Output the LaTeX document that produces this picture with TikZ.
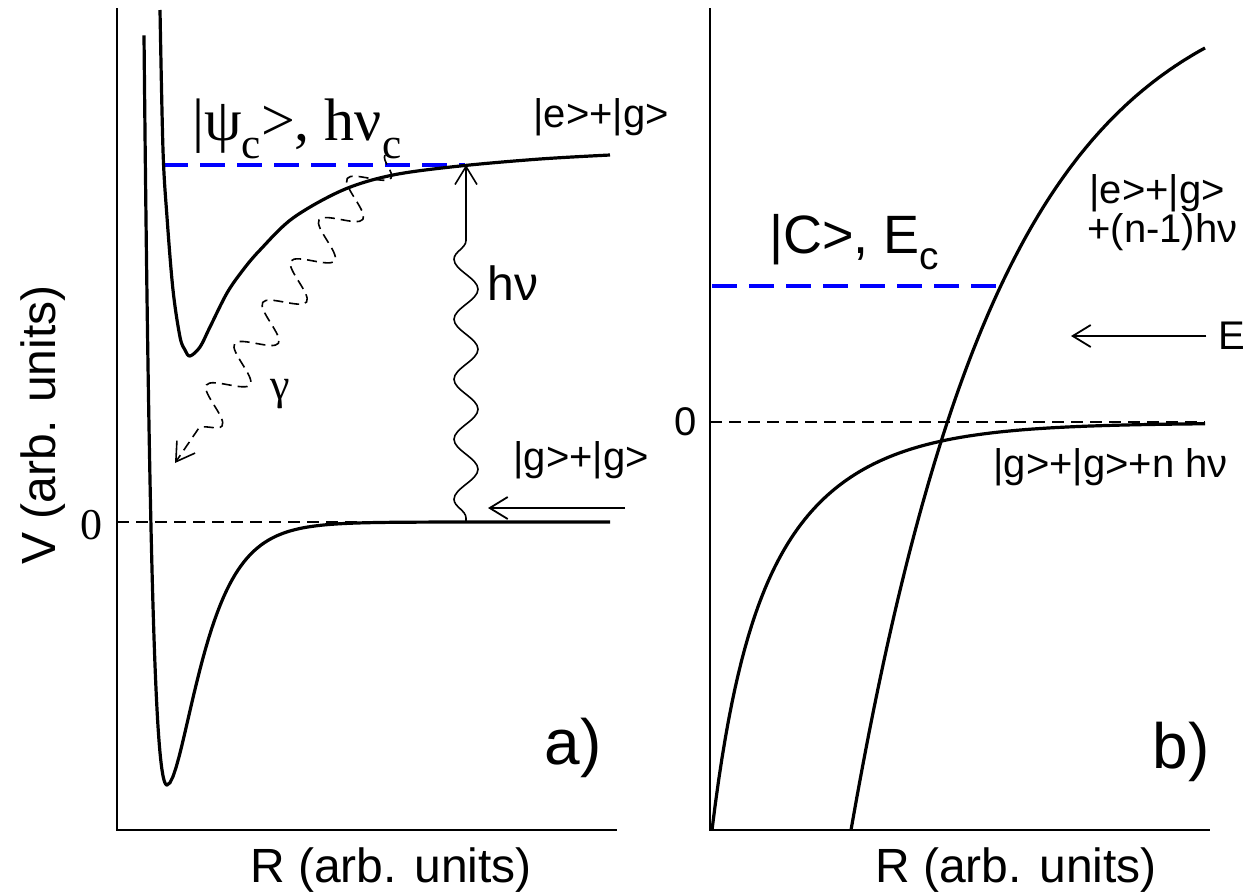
\documentclass[tikz,border=0pt]{standalone}
\usepackage{fontspec}
\setmainfont{Liberation Sans}
\newfontfamily\timesfont{Liberation Serif}
\usetikzlibrary{arrows.meta,decorations.pathmorphing}
\newcommand{\lowsub}[1]{\raisebox{-0.3em}{\scalebox{0.72}{#1}}}

\begin{document}
\begin{tikzpicture}[x=0.5pt,y=-0.5pt,>={Straight Barb[length=9pt,width=11pt]},
  every node/.style={inner sep=0pt},
  curve/.style={line width=1.6pt,line join=round},
  axis/.style={line width=1.1pt},
  zero/.style={line width=0.8pt,dash pattern=on 6pt off 3.5pt},
  level/.style={blue,line width=2.2pt,dash pattern=on 12.5pt off 6pt},
  photon/.style={line width=0.8pt,decorate,decoration={snake,amplitude=6pt,segment length=30pt,pre length=2pt,post length=25pt}},
  decay/.style={line width=0.8pt,dash pattern=on 5pt off 3pt,decorate,decoration={snake,amplitude=9pt,segment length=25pt,post length=12pt}},
  small/.style={font=\fontsize{20}{23}\selectfont},
  big/.style={font=\fontsize{24}{27}\selectfont},
  panel/.style={font=\fontsize{32}{36}\selectfont}]
\useasboundingbox (0,0) rectangle (1252,895);

% panel a)
\draw[axis] (117,8) -- (117,830) -- (617,830);
\draw[zero] (117,522) -- (610,522);
\draw[level] (163,165) -- (465,165);
\draw[curve] plot[domain=144:167,samples=40] (\x,{522-263*((1-exp(-0.043*(\x-167)))^2-1)})
  -- plot[domain=167:610,samples=150] (\x,{522-263*((1-exp(-0.033*(\x-167)))^2-1)});
\draw[curve] plot[smooth,tension=0.55] coordinates {(160,10) (163,150) (167,217) (173,290) (180,337)
  (185,350) (190,356) (200,347) (210,327) (227,293) (243,270) (260,250) (293,218) (343,190)
  (393,175) (460,166) (540,159) (610,155)};
\coordinate (g0) at (466,522);
\coordinate (e0) at (466,165);
\draw[photon,->] (g0) -- (e0);
\node[big,anchor=base west] (hnu) at (487,300) {hν};
\coordinate (gs) at (385,155);
\coordinate (ge) at (175,463);
\draw[decay,->] (gs) -- (ge);
\node[font=\timesfont\fontsize{22}{24}\selectfont] (gam) at (280,394) {γ};
\node[font=\timesfont\fontsize{30}{32}\selectfont,anchor=base west] (psic) at (192,140)
  {|ψ\lowsub{c}>, hν\lowsub{c}};
\node[small,anchor=base west] (eg) at (533,127) {|e>+|g>};
\node[small,anchor=base west] (gg) at (513,470) {|g>+|g>};
\coordinate (inA) at (625,508);
\coordinate (inB) at (488,508);
\draw[line width=0.9pt,->] (inA) -- (inB);
\node[font=\timesfont\fontsize{22}{24}\selectfont] (zeroA) at (91,525) {0};
\node[big,rotate=90] (vlab) at (43,425) {V (arb. units)};
\node[big] (rlabA) at (391,870) {R (arb. units)};
\node[panel] (pa) at (573,748) {a)};

% panel b)
\draw[axis] (710,8) -- (710,830) -- (1210,830);
\draw[zero] (710,422) -- (1205,422);
\draw[level] (712,286) -- (1002,286);
\draw[curve] plot[domain=712:1205,samples=150] (\x,{423+283*exp(-0.012*(\x-712))+124*exp(-0.039*(\x-712))});
\draw[curve] plot[domain=851:1205,samples=120] (\x,{-35+865*exp(-(\x-851)/151)});
\node[font=\fontsize{27}{30}\selectfont,anchor=base west] (cst) at (769,253) {|C>, E\lowsub{c}};
\node[small,anchor=base west] (egn) at (1089,203) {|e>+|g>};
\node[small,anchor=base west] (egn2) at (1087,242) {+(n-1)hν};
\node[small,inner xsep=6pt] (Elab) at (1232,336) {E};
\coordinate (Etip) at (1071,336);
\draw[line width=0.9pt,->] (Elab.west) -- (Etip);
\node[small,anchor=base west] (ggn) at (993,477) {|g>+|g>+n hν};
\node[small] (zeroB) at (686,422) {0};
\node[big] (rlabB) at (1016,870) {R (arb. units)};
\node[panel] (pb) at (1181,752) {b)};
\end{tikzpicture}
\end{document}
